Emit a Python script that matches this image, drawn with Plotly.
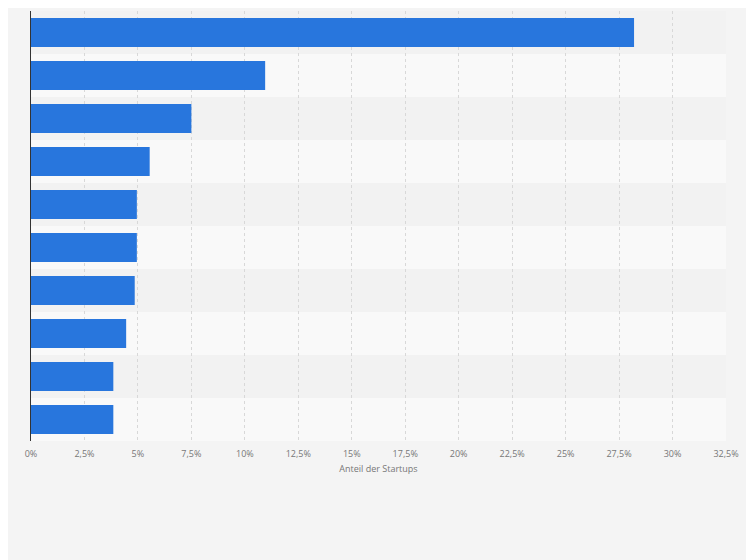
import plotly.graph_objects as go

categories = ["A", "B", "C", "D", "E", "F", "G", "H", "I", "J"]
values = [28.2, 10.95, 7.5, 5.55, 4.95, 4.95, 4.85, 4.45, 3.85, 3.85]
tick_vals = [0, 2.5, 5, 7.5, 10, 12.5, 15, 17.5, 20, 22.5, 25, 27.5, 30, 32.5]
tick_text = ["0%", "2,5%", "5%", "7,5%", "10%", "12,5%", "15%", "17,5%", "20%", "22,5%", "25%", "27,5%", "30%", "32,5%"]

fig = go.Figure(go.Bar(x=values, y=categories, orientation="h",
                       marker=dict(color="#2876dd", line=dict(width=0)), width=0.68))

shapes = []
for i, c in enumerate(categories):
    shapes.append(dict(type="rect", xref="paper", yref="y", x0=0, x1=1,
                       y0=i - 0.5, y1=i + 0.5, layer="below", line=dict(width=0),
                       fillcolor="#f2f2f2" if i % 2 == 0 else "#f9f9f9"))
fig.update_layout(
    width=754, height=560, margin=dict(l=23, r=36, t=3, b=127),
    paper_bgcolor="#f4f4f4", plot_bgcolor="#f4f4f4", shapes=shapes, showlegend=False,
    xaxis=dict(range=[0, 32.5], tickvals=tick_vals, ticktext=tick_text,
               showgrid=True, gridcolor="#d8d8d8", griddash="dot", zeroline=False,
               tickfont=dict(family="Open Sans", size=9, color="#777"),
               title=dict(text="Anteil der Startups", font=dict(family="Open Sans", size=9, color="#777"), standoff=6),
               ticks="outside", ticklen=4, tickcolor="rgba(0,0,0,0)"),
    yaxis=dict(autorange="reversed", showticklabels=False, showgrid=False,
               showline=True, linecolor="#333", linewidth=1, range=[9.5, -0.5]),
    bargap=0.3,
)
fig.write_html("out.html")
